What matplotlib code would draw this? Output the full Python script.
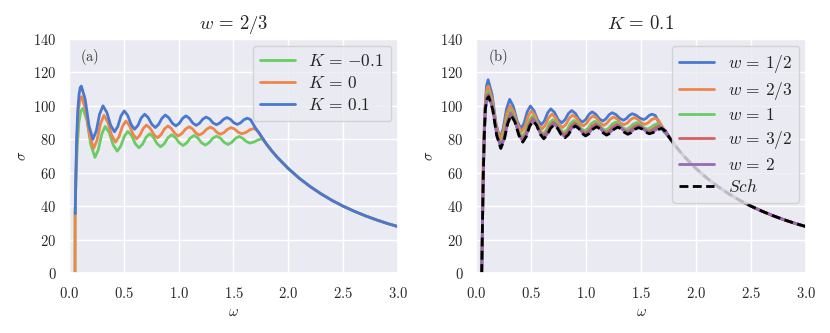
import matplotlib
matplotlib.use("Agg")
import matplotlib.pyplot as plt
import seaborn as sns

# ---------------- data ----------------
xticks = [0.0, 0.5, 1.0, 1.5, 2.0, 2.5, 3.0]
xtick_labels = ["0.0", "0.5", "1.0", "1.5", "2.0", "2.5", "3.0"]
yticks = [0, 20, 40, 60, 80, 100, 120, 140]
ytick_labels = ["0", "20", "40", "60", "80", "100", "120", "140"]

# common high-frequency tail
tail_omega = [1.80, 1.85, 1.90, 2.00, 2.10, 2.20, 2.30, 2.40, 2.50, 2.60, 2.70, 2.80, 2.90, 3.00]
tail_sigma = [77.2, 73.0, 69.2, 62.5, 56.7, 51.7, 47.3, 43.4, 40.0, 37.0, 34.3, 31.9, 29.7, 27.8]

# K = 0.1, w = 2/3
kp_omega = [0.057, 0.063, 0.070, 0.080, 0.092, 0.103,
            0.113, 0.148, 0.183, 0.218, 0.249, 0.279, 0.310, 0.345, 0.380, 0.415,
            0.445, 0.474, 0.504, 0.535, 0.567, 0.598, 0.629, 0.659, 0.690, 0.722,
            0.755, 0.787, 0.817, 0.848, 0.878, 0.910, 0.943, 0.975, 1.005, 1.036,
            1.066, 1.097, 1.129, 1.160, 1.190, 1.220, 1.250, 1.282, 1.313, 1.345,
            1.377, 1.408, 1.440, 1.471, 1.503, 1.534, 1.564, 1.595, 1.625, 1.655,
            1.700, 1.740]
kp_sigma = [35.5, 60.0, 80.0, 97.0, 107.0, 111.0,
            111.8, 103.8, 88.0, 80.0, 85.0, 95.0, 100.0, 96.1, 88.4, 84.5,
            87.6, 93.9, 97.0, 94.3, 88.8, 86.0, 88.3, 92.8, 95.0, 93.0,
            89.0, 87.0, 88.9, 92.6, 94.5, 92.9, 89.6, 88.0, 89.5, 92.5,
            94.0, 92.6, 89.7, 88.3, 89.6, 92.0, 93.3, 92.2, 89.8, 88.7,
            89.8, 91.9, 93.0, 92.0, 89.9, 88.9, 89.8, 91.7, 92.6, 91.8,
            86.8, 83.2]

# K = 0 (Schwarzschild) oscillating part
k0_omega = [0.115, 0.152, 0.188, 0.225, 0.256, 0.288, 0.319, 0.354, 0.390, 0.425,
            0.456, 0.488, 0.519, 0.551, 0.584, 0.616, 0.646, 0.677, 0.707, 0.741,
            0.774, 0.808, 0.839, 0.871, 0.902, 0.933, 0.965, 0.996, 1.029, 1.063,
            1.096, 1.126, 1.157, 1.187, 1.221, 1.256, 1.290, 1.320, 1.350, 1.380,
            1.413, 1.446, 1.479, 1.511, 1.544, 1.576, 1.613, 1.651, 1.688, 1.722,
            1.755]
k0_sigma = [105.5, 97.8, 82.3, 74.5, 79.5, 89.4, 94.3, 90.3, 82.3, 78.3,
            81.5, 87.8, 90.9, 88.3, 83.0, 80.3, 82.4, 86.5, 88.5, 86.6,
            82.8, 80.9, 82.7, 86.2, 88.0, 86.5, 83.5, 82.0, 83.4, 86.1,
            87.5, 86.3, 83.8, 82.5, 83.7, 86.1, 87.3, 86.2, 84.1, 83.0,
            84.0, 86.0, 87.0, 86.1, 84.2, 83.3, 84.1, 85.7, 86.5, 84.8,
            81.3]
k0_rise_omega = [0.055, 0.056, 0.063, 0.072, 0.085, 0.100]
k0_rise_sigma = [0.0, 35.0, 58.0, 80.0, 97.0, 104.0]
sch_rise_omega = [0.052, 0.059, 0.066, 0.075, 0.085, 0.100]
sch_rise_sigma = [0.0, 30.0, 58.0, 82.0, 98.0, 104.0]

# K = -0.1, w = 2/3
km_omega = [0.055, 0.056, 0.065, 0.075, 0.090, 0.108,
            0.127, 0.164, 0.200, 0.237, 0.268, 0.299, 0.330, 0.367, 0.403, 0.440,
            0.472, 0.505, 0.537, 0.571, 0.604, 0.638, 0.670, 0.703, 0.735, 0.768,
            0.802, 0.835, 0.868, 0.902, 0.935, 0.970, 1.005, 1.040, 1.073, 1.107,
            1.140, 1.174, 1.208, 1.242, 1.276, 1.311, 1.345, 1.380, 1.414, 1.449,
            1.483, 1.518, 1.552, 1.581, 1.617, 1.649, 1.688, 1.726, 1.765]
km_sigma = [0.0, 35.0, 58.0, 75.0, 90.0, 97.0,
            98.5, 91.2, 76.5, 69.2, 73.8, 83.1, 87.7, 84.0, 76.6, 72.9,
            75.9, 81.8, 84.7, 82.3, 77.4, 74.9, 77.0, 81.2, 83.3, 81.4,
            77.5, 75.5, 77.3, 80.9, 82.7, 81.1, 77.9, 76.3, 77.8, 80.8,
            82.3, 80.9, 78.0, 76.5, 77.9, 80.6, 81.9, 80.7, 78.2, 76.9,
            78.1, 80.5, 81.7, 80.7, 78.7, 77.7, 78.4, 79.7, 80.3]

# K = 0.1, w = 1/2
w12_omega = [0.052, 0.059, 0.066, 0.075, 0.085, 0.096,
             0.110, 0.146, 0.182, 0.218, 0.247, 0.277, 0.306, 0.340, 0.375, 0.409,
             0.437, 0.466, 0.494, 0.527, 0.561, 0.594, 0.623, 0.651, 0.680, 0.713,
             0.746, 0.779, 0.809, 0.840, 0.870, 0.903, 0.935, 0.968, 0.997, 1.027,
             1.056, 1.088, 1.121, 1.153, 1.181, 1.210, 1.238, 1.272, 1.306, 1.340,
             1.367, 1.394, 1.421, 1.455, 1.489, 1.523, 1.548, 1.573, 1.598, 1.630,
             1.670, 1.705, 1.750]
w12_sigma = [0.0, 30.0, 58.0, 84.0, 102.0, 112.0,
             115.6, 106.8, 89.3, 80.5, 86.4, 98.1, 103.9, 99.5, 90.7, 86.3,
             89.7, 96.5, 99.9, 97.1, 91.5, 88.7, 91.1, 95.8, 98.2, 96.1,
             91.9, 89.8, 91.7, 95.4, 97.2, 95.5, 92.0, 90.3, 91.8, 94.9,
             96.4, 95.0, 92.3, 90.9, 92.2, 94.7, 95.9, 94.8, 92.5, 91.4,
             92.4, 94.3, 95.3, 94.4, 92.7, 91.8, 92.6, 94.2, 95.0, 94.3,
             89.0, 84.8, 81.6]

# K = 0.1, w = 1
w1_omega = [0.052, 0.059, 0.066, 0.075, 0.085, 0.098,
            0.114, 0.150, 0.186, 0.222, 0.253, 0.284, 0.315, 0.350, 0.385, 0.420,
            0.451, 0.481, 0.512, 0.544, 0.575, 0.607, 0.638, 0.668, 0.699, 0.732,
            0.765, 0.798, 0.829, 0.859, 0.890, 0.922, 0.954, 0.986, 1.018, 1.049,
            1.081, 1.112, 1.143, 1.174, 1.206, 1.238, 1.270, 1.301, 1.332, 1.363,
            1.395, 1.428, 1.460, 1.492, 1.523, 1.555, 1.587, 1.618, 1.650, 1.685,
            1.715, 1.750]
w1_sigma = [0.0, 30.0, 58.0, 83.0, 100.0, 107.5,
            108.7, 100.9, 85.2, 77.3, 82.3, 92.2, 97.2, 93.3, 85.4, 81.4,
            84.6, 90.9, 94.0, 91.3, 85.9, 83.2, 85.4, 89.7, 91.8, 89.9,
            86.0, 84.0, 85.8, 89.5, 91.3, 89.7, 86.6, 85.0, 86.5, 89.4,
            90.8, 89.5, 86.8, 85.4, 86.6, 89.1, 90.3, 89.2, 87.0, 85.9,
            86.9, 89.0, 90.0, 89.0, 87.1, 86.1, 86.9, 88.5, 89.3, 87.6,
            84.8, 81.6]

# K = 0.1, w = 3/2
w32_omega = [0.052, 0.059, 0.066, 0.075, 0.085, 0.099,
             0.115, 0.151, 0.188, 0.224, 0.255, 0.286, 0.317, 0.352, 0.388, 0.423,
             0.454, 0.485, 0.516, 0.548, 0.580, 0.612, 0.642, 0.673, 0.703, 0.736,
             0.770, 0.803, 0.834, 0.865, 0.896, 0.928, 0.959, 0.991, 1.024, 1.056,
             1.089, 1.120, 1.150, 1.181, 1.214, 1.247, 1.280, 1.311, 1.341, 1.372,
             1.405, 1.437, 1.470, 1.502, 1.534, 1.566, 1.600, 1.634, 1.668, 1.700,
             1.725, 1.755]
w32_sigma = [0.0, 30.0, 58.0, 82.5, 99.0, 106.0,
             107.1, 99.3, 83.7, 75.9, 80.9, 90.8, 95.8, 91.8, 83.9, 79.9,
             83.1, 89.4, 92.5, 89.8, 84.5, 81.8, 83.9, 88.1, 90.2, 88.3,
             84.4, 82.5, 84.3, 87.9, 89.7, 88.2, 85.1, 83.5, 84.9, 87.8,
             89.2, 87.9, 85.3, 84.0, 85.2, 87.6, 88.8, 87.7, 85.6, 84.5,
             85.5, 87.5, 88.5, 87.6, 85.7, 84.7, 85.5, 87.2, 88.0, 86.3,
             84.4, 81.3]

# K = 0.1, w = 2
w2_omega = [0.052, 0.059, 0.066, 0.075, 0.085, 0.100,
            0.115, 0.152, 0.188, 0.225, 0.256, 0.288, 0.319, 0.354, 0.390, 0.425,
            0.456, 0.488, 0.519, 0.551, 0.584, 0.616, 0.646, 0.677, 0.707, 0.741,
            0.774, 0.808, 0.839, 0.871, 0.902, 0.933, 0.965, 0.996, 1.029, 1.063,
            1.096, 1.126, 1.157, 1.187, 1.221, 1.256, 1.290, 1.320, 1.350, 1.380,
            1.413, 1.446, 1.479, 1.511, 1.544, 1.576, 1.613, 1.651, 1.688, 1.722,
            1.755]
w2_sigma = [0.0, 30.0, 58.0, 82.0, 98.0, 104.5,
            106.1, 98.4, 82.9, 75.1, 80.1, 90.0, 94.9, 90.9, 82.9, 78.9,
            82.1, 88.4, 91.5, 88.9, 83.6, 80.9, 83.0, 87.1, 89.1, 87.2,
            83.4, 81.5, 83.3, 86.8, 88.6, 87.1, 84.1, 82.6, 84.0, 86.7,
            88.1, 86.9, 84.4, 83.1, 84.3, 86.7, 87.9, 86.8, 84.7, 83.6,
            84.6, 86.6, 87.6, 86.7, 84.8, 83.9, 84.7, 86.3, 87.1, 85.2,
            81.4]

labels_a = [r"$K\,=\,{-0.1}$", r"$K\,=\,0$", r"$K\,=\,0.1$"]
labels_b = [r"$w\,=\,1/2$", r"$w\,=\,2/3$", r"$w\,=\,1$", r"$w\,=\,3/2$",
            r"$w\,=\,2$", r"$Sch$"]
titles = [r"$w\,=\,2/3$", r"$K\,=\,0.1$"]

# ---------------- style ----------------
sns.set_theme(style="darkgrid", palette="muted")
plt.rcParams["font.family"] = ["DejaVu Serif"]
plt.rcParams["mathtext.fontset"] = "cm"
pal = sns.color_palette("muted")
c_blue, c_orange, c_green, c_red, c_purple = pal[0], pal[1], pal[2], pal[3], pal[4]

fig = plt.figure(figsize=(8.30, 3.33), dpi=100)
axA = fig.add_axes([0.0831, 0.180, 0.3964, 0.703])
axB = fig.add_axes([0.5735, 0.180, 0.3976, 0.703])

lw = 2.0


def full(o, s):
    return list(o) + tail_omega, list(s) + tail_sigma


# panel (a)
o, s = full(km_omega, km_sigma)
axA.plot(o, s, color=c_green, lw=lw, label=labels_a[0])
o, s = full(k0_rise_omega + k0_omega, k0_rise_sigma + k0_sigma)
axA.plot(o, s, color=c_orange, lw=lw, label=labels_a[1])
o, s = full(kp_omega, kp_sigma)
axA.plot(o, s, color=c_blue, lw=lw, label=labels_a[2])

# panel (b)
o, s = full(w12_omega, w12_sigma)
axB.plot(o, s, color=c_blue, lw=lw, label=labels_b[0])
o, s = full(kp_omega, kp_sigma)
axB.plot(o, s, color=c_orange, lw=lw, label=labels_b[1])
o, s = full(w1_omega, w1_sigma)
axB.plot(o, s, color=c_green, lw=lw, label=labels_b[2])
o, s = full(w32_omega, w32_sigma)
axB.plot(o, s, color=c_red, lw=lw, label=labels_b[3])
o, s = full(w2_omega, w2_sigma)
axB.plot(o, s, color=c_purple, lw=lw, label=labels_b[4])
o, s = full(sch_rise_omega + k0_omega, sch_rise_sigma + k0_sigma)
axB.plot(o, s, color="black", lw=lw, ls=(0, (3.2, 1.6)), label=labels_b[5])

for ax, title, tag in [(axA, titles[0], r"$\mathrm{(a)}$"),
                       (axB, titles[1], r"$\mathrm{(b)}$")]:
    ax.set_xlim(0, 3.0)
    ax.set_ylim(0, 140)
    ax.set_xticks(xticks)
    ax.set_xticklabels(["$" + t + "$" for t in xtick_labels], fontsize=10.5)
    ax.set_yticks(yticks)
    ax.set_yticklabels(["$" + t + "$" for t in ytick_labels], fontsize=10.5)
    ax.set_xlabel(r"$\omega$", fontsize=10.5, labelpad=3)
    ax.set_ylabel(r"$\sigma$", fontsize=10.5, labelpad=3)
    ax.set_title(title, fontsize=13.5, pad=7)
    ax.text(0.035, 0.925, tag, transform=ax.transAxes, fontsize=10.5,
            ha="left", va="center", color="#333333")
    ax.tick_params(axis="both", pad=3)

axA.legend(loc="upper right", fontsize=12.5, handlelength=2.0,
           borderaxespad=0.4, labelspacing=0.3)
axB.legend(loc="upper right", fontsize=12.5, handlelength=2.0,
           borderaxespad=0.4, labelspacing=0.3)

fig.savefig("out.png", dpi=100)
